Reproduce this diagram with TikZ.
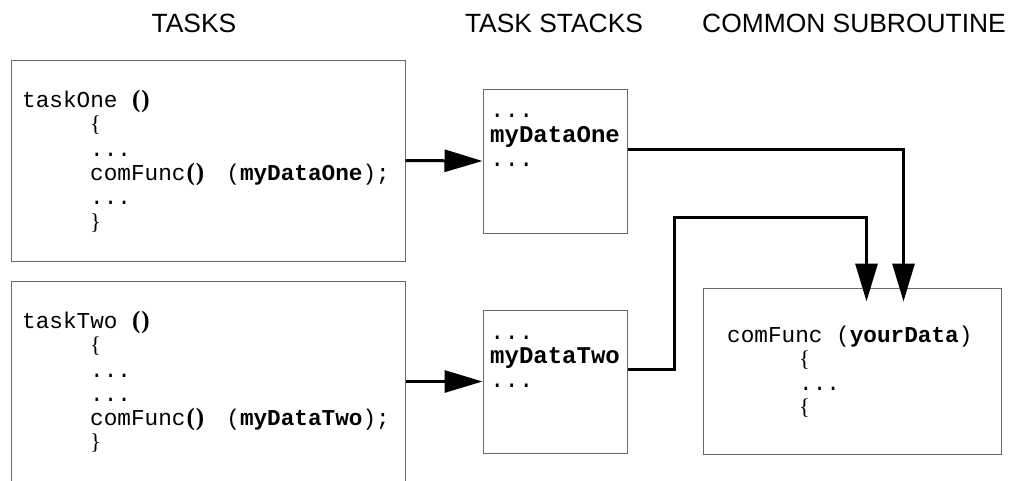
\documentclass[tikz,border=0pt]{standalone}
\usepackage{fontspec}
\setmainfont{Liberation Sans}
\newfontfamily\cour{Liberation Mono}
\newfontfamily\tms{Liberation Serif}
\usetikzlibrary{arrows.meta,calc}
\definecolor{boxgray}{RGB}{105,105,105}
\newcommand\pr{\makebox[27.2pt][l]{\hspace{1pt}{\tms\bfseries\fontsize{25}{26}\selectfont(\kern1pt)}}}
\newcommand\lb{{\tms\{}}
\newcommand\rb{{\tms\}}}
\begin{document}
\begin{tikzpicture}[x=1pt,y=-1pt,
  box/.style={draw=boxgray, line width=1pt, inner sep=0pt},
  title/.style={anchor=base, inner sep=0pt, font=\fontsize{26.4}{30}\selectfont},
  code/.style={anchor=base west, inner sep=0pt, font=\cour\fontsize{22.7}{24}\selectfont},
  stk/.style={anchor=base west, inner sep=0pt, font=\cour\fontsize{24}{26}\selectfont},
  conn/.style={line width=3pt, -{Triangle[length=38pt,width=22pt]}}]
\useasboundingbox (0,0) rectangle (1009,480);
\clip (0,0) rectangle (1009,480);

% titles
\node[title] (h1) at (194,32) {TASKS};
\node[title] (h2) at (554,32) {TASK STACKS};
\node[title] (h3) at (854,32) {COMMON SUBROUTINE};

% boxes
\node[box, minimum width=394pt, minimum height=201pt] (t1) at (208,160.5) {};
\node[box, minimum width=394pt, minimum height=219pt] (t2) at (208,390.5) {};
\node[box, minimum width=144pt, minimum height=144pt] (s1) at (555,161) {};
\node[box, minimum width=144pt, minimum height=143pt] (s2) at (555,381.5) {};
\node[box, minimum width=298pt, minimum height=166pt] (cb) at (852,371) {};

% task one text
\node[code] (t1a) at (22,107) {taskOne \pr};
\node[code] (t1b) at (90,131) {\lb};
\node[code] (t1c) at (90,156) {...};
\node[code] (t1d) at (90,180) {comFunc\pr{} (\textbf{myDataOne});};
\node[code] (t1e) at (90,204) {...};
\node[code] (t1f) at (90,229) {\rb};

% task two text
\node[code] (t2a) at (22,328) {taskTwo \pr};
\node[code] (t2b) at (90,352) {\lb};
\node[code] (t2c) at (90,377) {...};
\node[code] (t2d) at (90,401) {...};
\node[code] (t2e) at (90,425) {comFunc\pr{} (\textbf{myDataTwo});};
\node[code] (t2f) at (90,449) {\rb};

% stacks text
\node[stk] (s1a) at (490,117) {...};
\node[stk] (s1b) at (490,142) {\textbf{myDataOne}};
\node[stk] (s1c) at (490,166) {...};
\node[stk] (s2a) at (490,339) {...};
\node[stk] (s2b) at (490,363) {\textbf{myDataTwo}};
\node[stk] (s2c) at (490,387) {...};

% common subroutine text
\node[code] (c1) at (727,342) {comFunc (\textbf{yourData})};
\node[code] (c2) at (799,366) {\lb};
\node[code] (c3) at (799,390) {...};
\node[code] (c4) at (799,414) {\lb};

% connectors
\coordinate (e1) at ($(cb.north west)+(201,14)$);
\coordinate (e2) at ($(cb.north west)+(164,14)$);
\coordinate (k2) at (674,217);
\draw[conn] (t1.east) -- (s1.west);
\draw[conn] (s2.west -| t2.east) -- (s2.west);
\draw[conn] ([yshift=12pt]s1.east) -| (e1);
\draw[conn] ([yshift=12.5pt]s2.east) -| (k2) -| (e2);
\end{tikzpicture}
\end{document}
